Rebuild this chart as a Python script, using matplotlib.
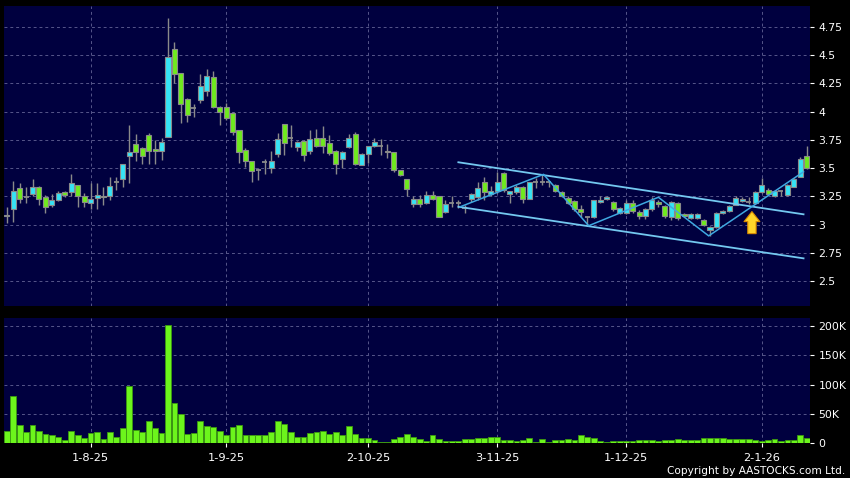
import matplotlib
matplotlib.use("Agg")
import matplotlib.pyplot as plt
import numpy as np

# ---------------- data ----------------
opens = [3.08, 3.135, 3.32, 3.24, 3.27, 3.335, 3.24, 3.17, 3.215, 3.29,
         3.285, 3.35, 3.255, 3.19, 3.235, 3.255, 3.25, 3.375, 3.40, 3.61,
         3.715, 3.68, 3.795, 3.67, 3.65, 3.78, 4.555, 4.34, 4.115, 4.035,
         4.10, 4.185, 4.31, 4.04, 4.04, 3.985, 3.84, 3.66, 3.565, 3.48,
         3.55, 3.505, 3.625, 3.89, 3.765, 3.685, 3.74, 3.655, 3.765, 3.765,
         3.72, 3.655, 3.578, 3.69, 3.80, 3.53, 3.625, 3.695, 3.70, 3.655,
         3.64, 3.48, 3.40, 3.18, 3.225, 3.19, 3.265, 3.25, 3.11, 3.19,
         3.19, 3.15, 3.225, 3.24, 3.375, 3.27, 3.30, 3.455, 3.27, 3.29,
         3.335, 3.23, 3.377, 3.377, 3.38, 3.35, 3.29, 3.235, 3.21, 3.135,
         3.07, 3.07, 3.20, 3.225, 3.20, 3.105, 3.10, 3.19, 3.115, 3.075,
         3.135, 3.20, 3.165, 3.07, 3.19, 3.09, 3.055, 3.055, 3.04, 2.955,
         2.98, 3.10, 3.12, 3.175, 3.205, 3.20, 3.195, 3.29, 3.31, 3.255,
         3.30, 3.26, 3.33, 3.425, 3.61]
highs = [3.16, 3.39, 3.37, 3.33, 3.40, 3.34, 3.26, 3.27, 3.30, 3.30,
         3.45, 3.355, 3.28, 3.37, 3.37, 3.33, 3.42, 3.42, 3.54, 3.88,
         3.80, 3.685, 3.81, 3.75, 3.77, 4.83, 4.62, 4.34, 4.12, 4.07,
         4.33, 4.38, 4.36, 4.05, 4.08, 4.00, 3.84, 3.68, 3.565, 3.50,
         3.58, 3.655, 3.81, 3.89, 3.88, 3.74, 3.75, 3.84, 3.85, 3.87,
         3.79, 3.66, 3.65, 3.80, 3.82, 3.63, 3.70, 3.77, 3.755, 3.71,
         3.645, 3.48, 3.40, 3.25, 3.26, 3.30, 3.30, 3.25, 3.22, 3.25,
         3.22, 3.17, 3.28, 3.38, 3.42, 3.34, 3.47, 3.47, 3.30, 3.35,
         3.34, 3.38, 3.41, 3.44, 3.39, 3.36, 3.30, 3.25, 3.22, 3.17,
         3.08, 3.22, 3.25, 3.25, 3.21, 3.16, 3.22, 3.22, 3.13, 3.15,
         3.24, 3.22, 3.17, 3.21, 3.20, 3.10, 3.10, 3.10, 3.05, 2.99,
         3.11, 3.13, 3.17, 3.25, 3.24, 3.24, 3.30, 3.41, 3.32, 3.31,
         3.31, 3.36, 3.41, 3.60, 3.70]
lows = [3.01, 3.02, 3.19, 3.19, 3.25, 3.17, 3.105, 3.16, 3.21, 3.24,
        3.25, 3.16, 3.16, 3.135, 3.14, 3.17, 3.22, 3.31, 3.335, 3.37,
        3.565, 3.535, 3.54, 3.54, 3.57, 3.78, 4.25, 3.90, 3.91, 3.95,
        4.08, 4.14, 4.03, 3.885, 3.925, 3.79, 3.545, 3.51, 3.375, 3.395,
        3.45, 3.455, 3.60, 3.615, 3.69, 3.65, 3.565, 3.625, 3.69, 3.63,
        3.62, 3.45, 3.50, 3.68, 3.53, 3.525, 3.545, 3.69, 3.62, 3.59,
        3.47, 3.43, 3.255, 3.16, 3.16, 3.18, 3.22, 3.065, 3.10, 3.16,
        3.15, 3.10, 3.20, 3.22, 3.22, 3.25, 3.28, 3.29, 3.19, 3.27,
        3.19, 3.225, 3.32, 3.35, 3.33, 3.29, 3.24, 3.18, 3.12, 3.07,
        3.00, 3.06, 3.19, 3.22, 3.12, 3.09, 3.09, 3.10, 3.05, 3.05,
        3.12, 3.16, 3.06, 3.04, 3.04, 3.07, 3.05, 3.05, 2.99, 2.90,
        2.97, 3.09, 3.11, 3.17, 3.20, 3.18, 3.18, 3.28, 3.26, 3.24,
        3.25, 3.25, 3.33, 3.42, 3.49]
closes = [3.085, 3.30, 3.225, 3.24, 3.33, 3.225, 3.16, 3.215, 3.28, 3.265,
          3.365, 3.255, 3.20, 3.225, 3.26, 3.24, 3.345, 3.375, 3.535, 3.645,
          3.64, 3.61, 3.65, 3.65, 3.73, 4.48, 4.335, 4.07, 3.97, 4.035,
          4.23, 4.32, 4.04, 4.00, 3.94, 3.82, 3.645, 3.565, 3.475, 3.48,
          3.55, 3.56, 3.755, 3.72, 3.765, 3.73, 3.615, 3.755, 3.70, 3.70,
          3.63, 3.54, 3.645, 3.767, 3.54, 3.625, 3.695, 3.735, 3.70, 3.645,
          3.48, 3.44, 3.315, 3.225, 3.18, 3.265, 3.225, 3.07, 3.185, 3.19,
          3.19, 3.15, 3.27, 3.32, 3.285, 3.30, 3.38, 3.31, 3.295, 3.335,
          3.23, 3.375, 3.377, 3.377, 3.38, 3.30, 3.25, 3.19, 3.135, 3.115,
          3.07, 3.215, 3.215, 3.24, 3.135, 3.145, 3.19, 3.12, 3.075, 3.135,
          3.215, 3.18, 3.075, 3.20, 3.06, 3.075, 3.09, 3.09, 3.00, 2.98,
          3.10, 3.12, 3.165, 3.235, 3.225, 3.20, 3.29, 3.35, 3.27, 3.30,
          3.30, 3.35, 3.40, 3.58, 3.50]
volumes_k = [20, 81, 30, 18, 31, 21, 15, 13, 11, 5,
             21, 14, 9, 17, 18, 6, 19, 11, 26, 98,
             22, 19, 37, 25, 17, 202, 68, 49, 16, 17,
             38, 29, 28, 21, 14, 28, 31, 13, 14, 13,
             14, 19, 38, 33, 19, 11, 11, 17, 19, 20,
             16, 18, 14, 29, 16, 8, 8, 5, 2, 2,
             6, 11, 16, 11, 7, 4, 13, 6, 3, 3,
             4, 6, 6, 9, 9, 10, 10, 5, 5, 3,
             5, 8, 2, 6, 2, 5, 5, 6, 5, 14,
             11, 8, 3, 2, 3, 3, 3, 3, 5, 5,
             5, 4, 5, 5, 7, 5, 5, 5, 9, 9,
             8, 8, 6, 7, 7, 7, 5, 4, 5, 7,
             4, 5, 5, 14, 9]

date_tick_idx = [13, 34, 56, 76, 96, 117]
date_tick_labels = ["1-8-25", "1-9-25", "2-10-25", "3-11-25", "1-12-25", "2-1-26"]
price_ticks = [2.5, 2.75, 3, 3.25, 3.5, 3.75, 4, 4.25, 4.5, 4.75]
price_tick_labels = ["2.5", "2.75", "3", "3.25", "3.5", "3.75", "4", "4.25", "4.5", "4.75"]
vol_ticks_k = [0, 50, 100, 150, 200]
vol_tick_labels = ["0", "50K", "100K", "150K", "200K"]

# drawn annotation lines (bar index, price)
channel_upper_x = [70.0, 123.5]
channel_upper_y = [3.552, 3.091]
channel_lower_x = [70.0, 123.5]
channel_lower_y = [3.158, 2.701]
zigzag_x = [70.3, 83.2, 90.2, 101.0, 108.8, 123.5]
zigzag_y = [3.158, 3.445, 2.99, 3.242, 2.90, 3.468]
arrow_x = 115.5
arrow_tip = 3.115
arrow_base = 2.92

# ---------------- style ----------------
BG = "#000000"
PANEL = "#00003F"
GRID = "#56568A"
UP = "#36E3F5"
DOWN = "#6FEA1E"
EDGE = "#8A8A8A"
VOL = "#6CF51C"
VOL_EDGE = "#3C9A10"
TXT = "#FFFFFF"

plt.rcParams['font.family'] = ['DejaVu Sans']

fig = plt.figure(figsize=(8.5, 4.78), dpi=100, facecolor=BG)
ax = fig.add_axes([4/850, 1-306/478, 806/850, 300/478], facecolor=PANEL)
axv = fig.add_axes([4/850, 1-443/478, 806/850, 125/478], facecolor=PANEL)

n = len(opens)
x = np.arange(n)
o = np.array(opens); h = np.array(highs); l = np.array(lows); c = np.array(closes)

# wicks
ax.vlines(x, l, h, color=EDGE, linewidth=1.0, zorder=2)
# bodies
body_w = 0.78
for i in range(n):
    diff = c[i] - o[i]
    if abs(diff) < 0.004:
        ax.hlines(o[i], i - body_w/2, i + body_w/2, color=EDGE, linewidth=1.3, zorder=3)
        continue
    col = UP if diff > 0 else DOWN
    ax.bar(i, abs(diff), bottom=min(o[i], c[i]), width=body_w, color=col,
           edgecolor=EDGE, linewidth=0.8, zorder=3)

# annotation lines
ax.plot(channel_upper_x, channel_upper_y, color="#74C8F0", linewidth=1.3, zorder=4)
ax.plot(channel_lower_x, channel_lower_y, color="#74C8F0", linewidth=1.3, zorder=4)
ax.plot(zigzag_x, zigzag_y, color="#3FA8E0", linewidth=1.1, zorder=4)
ax.annotate('', xy=(arrow_x, arrow_tip), xytext=(arrow_x, arrow_base),
            arrowprops=dict(arrowstyle='simple,head_length=0.6,head_width=0.95,tail_width=0.5',
                            fc='#FFD42A', ec='#D98A00', lw=0.8, mutation_scale=12,
                            shrinkA=0, shrinkB=0), zorder=5)

ax.set_xlim(-0.42, 124.5)
ax.set_ylim(2.279, 4.936)
ax.set_yticks(price_ticks)
ax.set_yticklabels(price_tick_labels)
ax.yaxis.tick_right()
ax.set_xticks(date_tick_idx)
ax.tick_params(axis='x', length=0, labelbottom=False)
ax.tick_params(axis='y', colors=TXT, labelcolor=TXT, length=3, width=0.8, pad=3, labelsize=7.8)
ax.grid(True, color=GRID, linestyle=(0, (3, 3)), linewidth=0.7)
ax.set_axisbelow(True)
for s in ax.spines.values():
    s.set_visible(False)

# volume
vol = np.array(volumes_k) * 1000.0
axv.bar(x, vol, width=0.9, color=VOL, edgecolor=VOL_EDGE, linewidth=0.6, zorder=3)
axv.set_xlim(-0.42, 124.5)
axv.set_ylim(0, 214000)
axv.set_yticks([v * 1000 for v in vol_ticks_k])
axv.set_yticklabels(vol_tick_labels)
axv.yaxis.tick_right()
axv.set_xticks(date_tick_idx)
axv.set_xticklabels(date_tick_labels)
axv.tick_params(axis='x', colors=TXT, labelcolor=TXT, length=3, width=0.8, pad=4, labelsize=8.2)
axv.tick_params(axis='y', colors=TXT, labelcolor=TXT, length=3, width=0.8, pad=3, labelsize=7.8)
axv.grid(True, color=GRID, linestyle=(0, (3, 3)), linewidth=0.7)
axv.set_axisbelow(True)
for s in axv.spines.values():
    s.set_visible(False)

fig.text(845/850, 1-471/478, "Copyright by AASTOCKS.com Ltd.", color=TXT,
         fontsize=7.6, ha='right', va='center')

fig.savefig("out.png", dpi=100, facecolor=BG)
